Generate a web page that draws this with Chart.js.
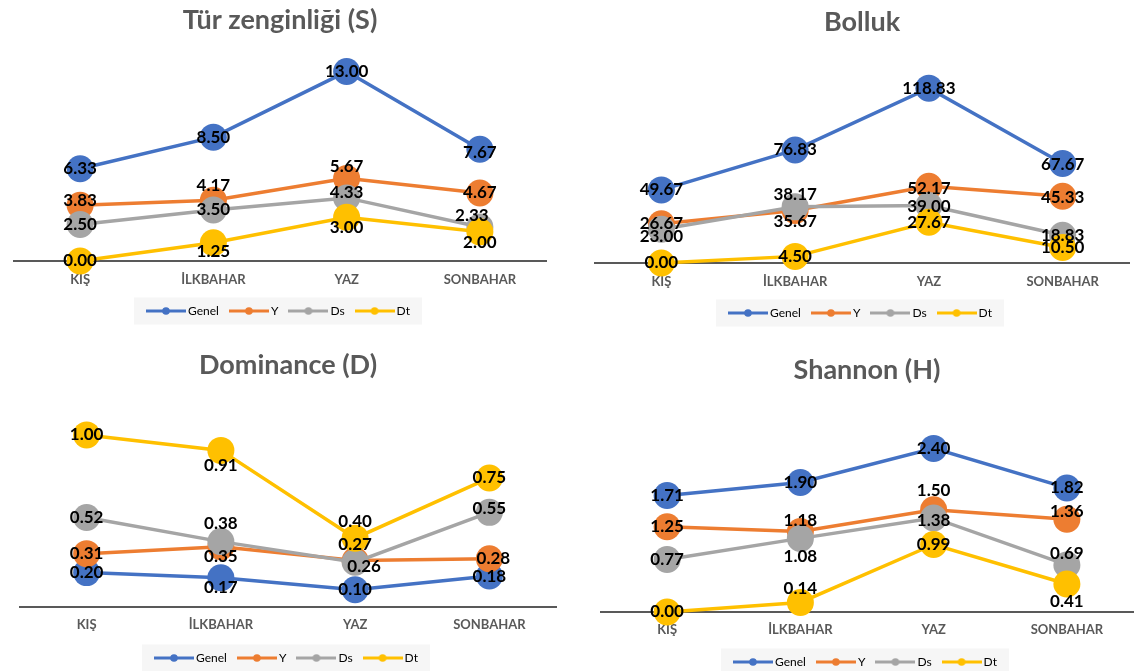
<!DOCTYPE html>
<html>
<head>
<meta charset="utf-8">
<title>Mevsimsel çeşitlilik indeksleri</title>
<script src="https://cdn.jsdelivr.net/npm/chart.js@4.4.1/dist/chart.umd.min.js"></script>
<style>
  html, body { margin: 0; padding: 0; background: #ffffff; }
  body { position: relative; width: 1134px; height: 671px; overflow: hidden; }
  .panel { position: absolute; }
</style>
</head>
<body>
<canvas class="panel" id="chartRichness"></canvas>
<canvas class="panel" id="chartAbundance"></canvas>
<canvas class="panel" id="chartDominance"></canvas>
<canvas class="panel" id="chartShannon"></canvas>
<script>
// ---- data -------------------------------------------------------------
const seasons = ['KIŞ', 'İLKBAHAR', 'YAZ', 'SONBAHAR'];
const seriesNames = ['Genel', 'Y', 'Ds', 'Dt'];

// Tür zenginliği (S)
const richnessGenel = [6.33, 8.50, 13.00, 7.67];
const richnessY     = [3.83, 4.17, 5.67, 4.67];
const richnessDs    = [2.50, 3.50, 4.33, 2.33];
const richnessDt    = [0.00, 1.25, 3.00, 2.00];

// Bolluk
const abundanceGenel = [49.67, 76.83, 118.83, 67.67];
const abundanceY     = [26.67, 35.67, 52.17, 45.33];
const abundanceDs    = [23.00, 38.17, 39.00, 18.83];
const abundanceDt    = [0.00, 4.50, 27.67, 10.50];

// Dominance (D)
const dominanceGenel = [0.20, 0.17, 0.10, 0.18];
const dominanceY     = [0.31, 0.35, 0.27, 0.28];
const dominanceDs    = [0.52, 0.38, 0.26, 0.55];
const dominanceDt    = [1.00, 0.91, 0.40, 0.75];

// Shannon (H)
const shannonGenel = [1.71, 1.90, 2.40, 1.82];
const shannonY     = [1.25, 1.18, 1.50, 1.36];
const shannonDs    = [0.77, 1.08, 1.38, 0.69];
const shannonDt    = [0.00, 0.14, 0.99, 0.41];

// value-axis ranges
const richnessMax = 14;
const abundanceMax = 140;
const dominanceMax = 1.2;
const shannonMax = 3;

// ---- styling ----------------------------------------------------------
const seriesColors = ['#4472C4', '#ED7D31', '#A5A5A5', '#FFC000'];
const textGray = '#595959';
const FONT = "Lato, 'Open Sans', 'DejaVu Sans', sans-serif";

// value label nudges [dx, dy] in px, per series and season
const richnessLabelShift = [
  [[0, 0], [0, 0], [0, 0], [0, 3]],
  [[0, -5], [0, -15], [0, -12], [0, 0]],
  [[0, 0], [0, 0], [0, -5], [-8, -12]],
  [[0, 0], [0, 9], [0, 10], [0, 11]]
];
const abundanceLabelShift = [
  [[0, 0], [0, 0], [0, 0], [0, 1]],
  [[0, 0], [0, 11], [0, 2], [0, 1]],
  [[0, 7], [0, -12], [0, 1], [0, 0]],
  [[0, 0], [0, 0], [0, 0], [0, 0]]
];
const dominanceLabelShift = [
  [[0, 0], [0, 10], [0, 0], [0, 0]],
  [[0, 0], [0, 10], [0, -16], [4, 0]],
  [[0, 0], [0, -18], [9, 4], [0, -4]],
  [[0, 0], [0, 15], [0, -17], [0, 0]]
];
const shannonLabelShift = [
  [[0, 0], [0, 0], [0, 0], [0, 0]],
  [[0, 0], [0, -11], [0, -19], [0, -8]],
  [[0, 0], [0, 18], [0, 3], [0, -11]],
  [[0, 0], [0, -14], [0, 0], [0, 17]]
];

// panel frames: canvas box plus the vertical anchors of title, plot, ticks, legend
const frames = {
  chartRichness:  { left: 0,   top: 0,   width: 560, height: 335, titleY: 20, plotTop: 57,   plotBottom: 261, tickY: 280, legendY: 311 },
  chartAbundance: { left: 581, top: 0,   width: 562, height: 335, titleY: 22, plotTop: 57,   plotBottom: 263, tickY: 282, legendY: 313 },
  chartDominance: { left: 6,   top: 335, width: 564, height: 336, titleY: 30, plotTop: 65.5, plotBottom: 272, tickY: 290, legendY: 323 },
  chartShannon:   { left: 587, top: 335, width: 560, height: 336, titleY: 35, plotTop: 72.5, plotBottom: 277, tickY: 295, legendY: 327 }
};

// legend glyph: a short line with a dot in the middle
function legendGlyph(color) {
  const c = document.createElement('canvas');
  c.width = 40; c.height = 10;
  const g = c.getContext('2d');
  g.strokeStyle = color; g.lineWidth = 3;
  g.beginPath(); g.moveTo(0, 5); g.lineTo(40, 5); g.stroke();
  g.fillStyle = color;
  g.beginPath(); g.arc(20, 5, 3.8, 0, Math.PI * 2); g.fill();
  return c;
}
const glyphs = seriesColors.map(legendGlyph);

// value labels drawn over the markers
const valueLabels = {
  id: 'valueLabels',
  afterDatasetsDraw(chart, args, opts) {
    const ctx = chart.ctx;
    ctx.save();
    ctx.font = 'bold 17px ' + FONT;
    ctx.fillStyle = '#000000';
    ctx.textAlign = 'center';
    ctx.textBaseline = 'middle';
    chart.data.datasets.forEach((ds, di) => {
      const meta = chart.getDatasetMeta(di);
      meta.data.forEach((pt, i) => {
        const s = opts.shift[di][i];
        ctx.fillText(ds.data[i].toFixed(2), pt.x + s[0], pt.y + s[1]);
      });
    });
    ctx.restore();
  }
};

// light panel behind the legend entries
const legendPanel = {
  id: 'legendPanel',
  beforeDraw(chart) {
    const lg = chart.legend;
    if (!lg || !lg.legendHitBoxes || !lg.legendHitBoxes.length) return;
    const hb = lg.legendHitBoxes;
    const first = hb[0], last = hb[hb.length - 1];
    const x0 = first.left - 16;
    const x1 = last.left + last.width + 12;
    const cy = first.top + first.height / 2;
    const ctx = chart.ctx;
    ctx.save();
    ctx.fillStyle = '#f6f6f6';
    ctx.fillRect(x0, cy - 13.5, x1 - x0, 27);
    ctx.restore();
  }
};

function buildChart(id, title, series, yMax, shift) {
  const f = frames[id];
  const canvas = document.getElementById(id);
  canvas.width = f.width;
  canvas.height = f.height;
  canvas.style.left = f.left + 'px';
  canvas.style.top = f.top + 'px';

  const titleSize = 27;
  const titleHalf = titleSize * 1.2 / 2;
  const legendPad = 14;
  const legendH = 12 + legendPad + 10;
  const padBottom = f.height - f.legendY - 16;
  const axisH = (f.height - padBottom - legendH) - f.plotBottom;
  const titlePadTop = f.titleY - titleHalf;
  const titlePadBottom = f.plotTop - f.titleY - titleHalf;

  const datasets = series.map((vals, i) => ({
    label: seriesNames[i],
    data: vals,
    borderColor: seriesColors[i],
    backgroundColor: seriesColors[i],
    borderWidth: 3.5,
    pointRadius: 13.5,
    pointHoverRadius: 13.5,
    pointBorderWidth: 0,
    pointBackgroundColor: seriesColors[i],
    pointBorderColor: seriesColors[i],
    tension: 0,
    clip: false,
    order: series.length - 1 - i
  }));

  return new Chart(canvas, {
    type: 'line',
    data: { labels: seasons, datasets },
    plugins: [legendPanel, valueLabels],
    options: {
      responsive: false,
      animation: false,
      events: [],
      layout: { padding: { left: 7, right: 7, top: 0, bottom: padBottom } },
      scales: {
        x: {
          type: 'category',
          offset: true,
          grid: { display: false, drawTicks: false },
          border: { display: true, color: '#595959', width: 2 },
          ticks: {
            color: textGray,
            padding: f.tickY - f.plotBottom - 8,
            font: { family: FONT, size: 13, weight: 'bold' },
            maxRotation: 0
          },
          afterFit(scale) { scale.height = axisH; }
        },
        y: { display: false, min: 0, max: yMax }
      },
      plugins: {
        title: {
          display: true,
          text: title,
          color: textGray,
          font: { family: FONT, size: titleSize, weight: 'bold', lineHeight: 1.2 },
          padding: { top: titlePadTop, bottom: titlePadBottom }
        },
        legend: {
          display: true,
          position: 'bottom',
          labels: {
            usePointStyle: true,
            pointStyleWidth: 32,
            padding: legendPad,
            color: textGray,
            font: { family: FONT, size: 12 },
            generateLabels() {
              return seriesNames.map((n, i) => ({
                text: n,
                fillStyle: seriesColors[i],
                strokeStyle: seriesColors[i],
                lineWidth: 0,
                pointStyle: glyphs[i],
                hidden: false,
                datasetIndex: i
              }));
            }
          }
        },
        tooltip: { enabled: false },
        valueLabels: { shift }
      }
    }
  });
}

buildChart('chartRichness', 'Tür zenginliği (S)',
  [richnessGenel, richnessY, richnessDs, richnessDt], richnessMax, richnessLabelShift);
buildChart('chartAbundance', 'Bolluk',
  [abundanceGenel, abundanceY, abundanceDs, abundanceDt], abundanceMax, abundanceLabelShift);
buildChart('chartDominance', 'Dominance (D)',
  [dominanceGenel, dominanceY, dominanceDs, dominanceDt], dominanceMax, dominanceLabelShift);
buildChart('chartShannon', 'Shannon (H)',
  [shannonGenel, shannonY, shannonDs, shannonDt], shannonMax, shannonLabelShift);
</script>
</body>
</html>
